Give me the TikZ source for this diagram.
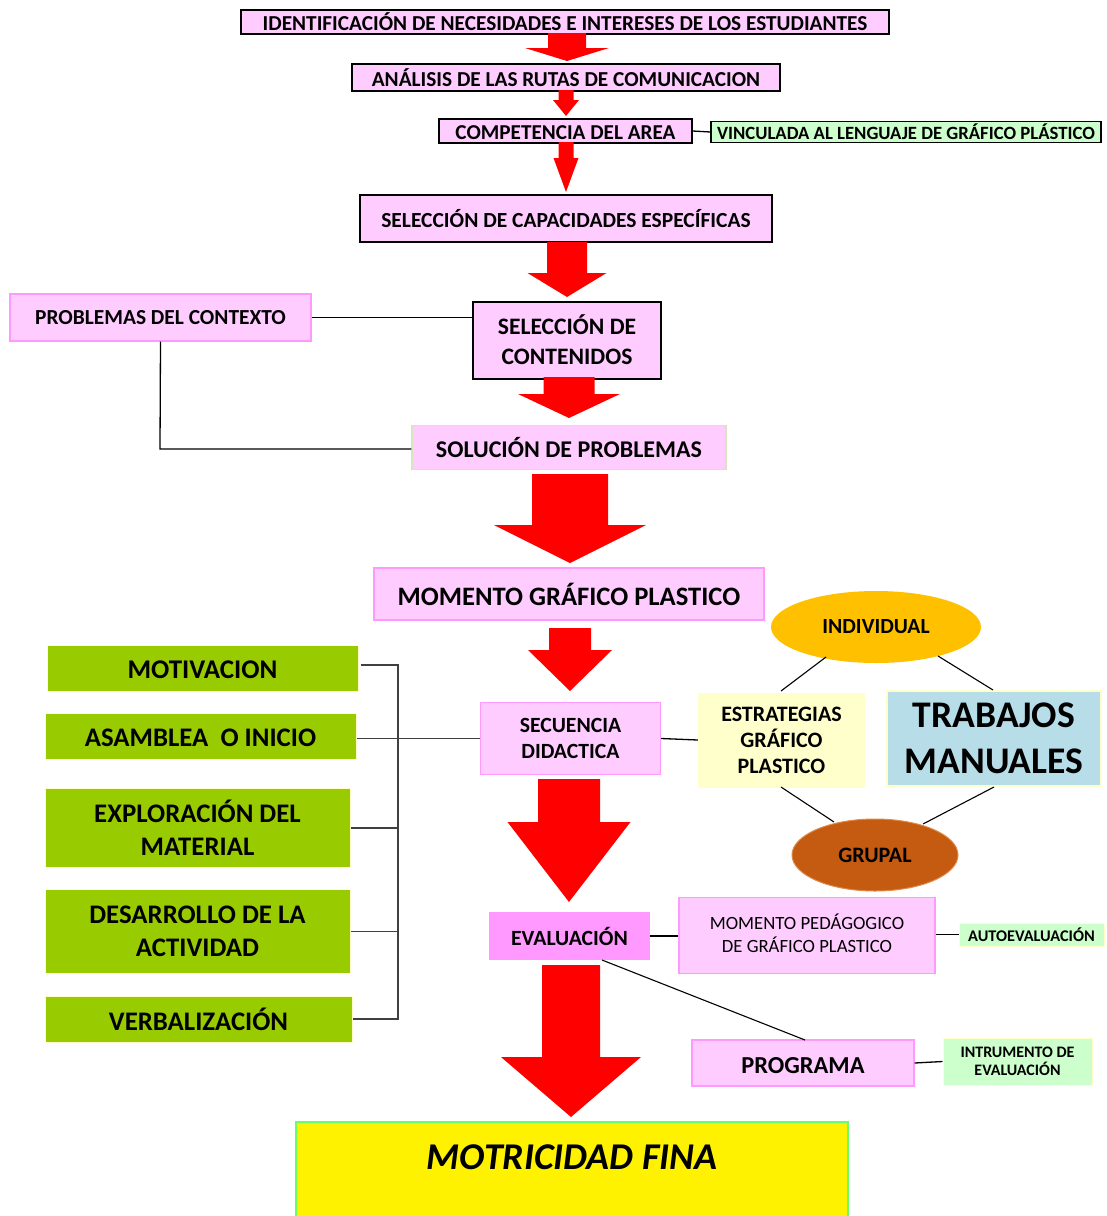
\documentclass[tikz,border=0pt]{standalone}
\usepackage{fontspec}
\setmainfont{Carlito}
\usetikzlibrary{shapes.geometric}
\definecolor{pinkfill}{HTML}{FFCCFF}
\definecolor{pinkline}{HTML}{FF99FF}
\definecolor{evalfill}{HTML}{FF99FF}
\definecolor{leafgreen}{HTML}{99CC00}
\definecolor{paleyellow}{HTML}{FFFFCC}
\definecolor{palegreen}{HTML}{CCFFCC}
\definecolor{paleblue}{HTML}{B7DEE8}
\definecolor{goldfill}{HTML}{FFC000}
\definecolor{brownfill}{HTML}{C55A11}
\definecolor{brownline}{HTML}{E08A4A}
\definecolor{arrowred}{HTML}{FF0000}
\definecolor{softgreen}{HTML}{D8E4BC}
\definecolor{brightgreen}{HTML}{66FF66}
\definecolor{linegrey}{HTML}{404040}
\newcommand\myarrow[6]{\fill[arrowred] ({#1-#3/2},#2) -- ({#1+#3/2},#2) -- ({#1+#3/2},#4) -- ({#1+#5/2},#4) -- (#1,#6) -- ({#1-#5/2},#4) -- ({#1-#3/2},#4) -- cycle;}
\tikzset{
  base/.style={rectangle, inner sep=0pt, align=center},
  txt/.style 2 args={font=\bfseries\fontsize{#1}{#2}\selectfont},
  rtxt/.style 2 args={font=\mdseries\fontsize{#1}{#2}\selectfont},
  capband/.style={text height=#1, text depth=0pt},
  blackbox/.style={base, draw=black, line width=1.6pt, fill=pinkfill},
  softbox/.style={base, draw=pinkline, line width=1.2pt, fill=pinkfill},
  greenbox/.style={base, draw=paleyellow, line width=1pt, fill=leafgreen},
  tagbox/.style={base, draw=paleyellow, line width=1pt, fill=palegreen},
  conn/.style={draw=black, line width=1.3pt},
  brk/.style={draw=linegrey, line width=1.2pt},
}
\begin{document}
\begin{tikzpicture}[x=1pt,y=-1pt]
\useasboundingbox (0,0) rectangle (1107,1216);
% top chain
\node[blackbox, txt={21.3}{24}, minimum width=648, minimum height=24] (ident) at (565,22) {IDENTIFICACIÓN DE NECESIDADES E INTERESES DE LOS ESTUDIANTES};
\node[blackbox, txt={21.3}{24}, minimum width=428, minimum height=27] (anal) at (566,77.5) {ANÁLISIS DE LAS RUTAS DE COMUNICACION};
\node[blackbox, txt={21.2}{24}, capband=17pt, minimum width=253, minimum height=24] (comp) at (565.5,131) {COMPETENCIA DEL AREA};
\node[base, txt={18.7}{22}, draw=black, line width=1.2pt, fill=palegreen, minimum width=390, minimum height=21] (vinc) at (906,132) {VINCULADA AL LENGUAJE DE GRÁFICO PLÁSTICO};
\node[blackbox, txt={21.5}{24}, line width=2pt, minimum width=412, minimum height=47] (capac) at (566,218.5) {SELECCIÓN DE CAPACIDADES ESPECÍFICAS};
\node[blackbox, txt={23.6}{30}, line width=2pt, minimum width=188, minimum height=77] (conte) at (567,340) {SELECCIÓN DE\\CONTENIDOS};
\node[softbox, txt={21.4}{24}, minimum width=301, minimum height=47] (probl) at (160.5,317.5) {PROBLEMAS DEL CONTEXTO};
\node[base, txt={24}{28}, draw=softgreen, line width=1.5pt, fill=pinkfill, minimum width=314, minimum height=44] (soluc) at (569,447.5) {SOLUCIÓN DE PROBLEMAS};
\node[softbox, txt={26.6}{30}, minimum width=390, minimum height=52] (momen) at (569,594) {MOMENTO GRÁFICO PLASTICO};
% arrows
\myarrow{567}{33}{38}{48}{84}{61}
\myarrow{566}{90}{15}{100}{26}{116}
\myarrow{566}{142}{15}{158}{25}{192}
\myarrow{567}{242}{40}{273}{79}{297}
\myarrow{569}{377}{51}{394}{102}{418}
\myarrow{570}{474}{76}{525}{152}{563}
\myarrow{570}{628}{42}{650}{84}{691}
\myarrow{569}{779}{62}{822}{123}{902}
\myarrow{571}{965}{58}{1057}{140}{1117}
% connectors top
\draw[conn] (comp.east) -- (vinc.west);
\draw[conn] (probl.east) -- (probl.east -| conte.west);
\coordinate (pbend) at (160,449);
\draw[conn] (probl.south) -- (pbend) -- (soluc.west |- pbend);
% left green column
\node[greenbox, txt={27}{30}, capband=21pt, minimum width=311, minimum height=46] (motiv) at (202.5,668) {MOTIVACION};
\node[greenbox, txt={26.8}{30}, capband=21pt, minimum width=311, minimum height=46] (asamb) at (200.5,736) {ASAMBLEA\ \ O INICIO};
\node[greenbox, txt={26.8}{33}, minimum width=305, minimum height=79] (explo) at (197.5,828) {EXPLORACIÓN DEL\\MATERIAL};
\node[greenbox, txt={26.8}{33}, minimum width=305, minimum height=84] (desar) at (197.5,931.5) {DESARROLLO DE LA\\ACTIVIDAD};
\node[greenbox, txt={26.8}{30}, minimum width=307, minimum height=46] (verba) at (198.5,1019.5) {VERBALIZACIÓN};
% center
\node[softbox, txt={21.7}{26}, minimum width=180, minimum height=72] (secue) at (570.5,738.5) {SECUENCIA\\DIDACTICA};
\node[base, txt={21.7}{26}, fill=evalfill, minimum width=161, minimum height=48] (evalu) at (569.5,936) {EVALUACIÓN};
\node[base, draw=brightgreen, line width=1.2pt, fill=yellow, minimum width=552, minimum height=100] (motri) at (572,1172) {};
\node[base, font=\bfseries\itshape\fontsize{37.8}{40}\selectfont] (motritxt) at (572,1157) {MOTRICIDAD FINA};
% bracket
\coordinate (btop) at (398,665);
\coordinate (bbot) at (398,1019);
\draw[brk] ([xshift=2pt]motiv.east |- btop) -- (btop) -- (bbot) -- (verba.east |- bbot);
\draw[brk] (asamb.east |- secue.west) -- (secue.west);
\draw[brk] (explo.east) -- (explo.east -| btop);
\draw[brk] (desar.east) -- (desar.east -| btop);
% right cluster
\node[ellipse, txt={21.6}{24}, fill=goldfill, inner sep=0pt, minimum width=210, minimum height=72] (indiv) at (876,627) {INDIVIDUAL};
\node[base, txt={22}{26}, fill=paleyellow, minimum width=167, minimum height=95] (estra) at (781.5,740) {ESTRATEGIAS\\GRÁFICO\\PLASTICO};
\node[base, txt={37.6}{46}, draw=paleyellow, line width=1.2pt, fill=paleblue, minimum width=214, minimum height=95] (traba) at (994,738.5) {TRABAJOS\\MANUALES};
\node[ellipse, txt={22}{24}, draw=brownline, line width=1pt, fill=brownfill, inner sep=0pt, minimum width=166, minimum height=72] (grupa) at (875,855) {GRUPAL};
\draw[conn] (secue.east) -- (estra.west);
\draw[conn, line width=1.1pt] (781,691) -- (826,657);
\draw[conn, line width=1.1pt] (938,656) -- (993,690);
\draw[conn, line width=1.1pt] (781,787) -- (834,822);
\draw[conn, line width=1.1pt] (994,787) -- (923,824);
% evaluation cluster
\node[softbox, minimum width=256, minimum height=76, anchor=north] (pedag) at (807,897) {};
\node[base, rtxt={18.7}{23}] (pedagtxt) at (807,933) {MOMENTO PEDÁGOGICO\\DE GRÁFICO PLASTICO};
\node[tagbox, txt={16.3}{20}, minimum width=145, minimum height=23] (autoe) at (1031.5,934.5) {AUTOEVALUACIÓN};
\node[softbox, txt={24.4}{28}, capband=21pt, minimum width=222, minimum height=46] (progr) at (803,1063) {PROGRAMA};
\node[tagbox, txt={16}{18}, minimum width=149, minimum height=47] (instr) at (1017.5,1061.5) {INTRUMENTO DE\\EVALUACIÓN};
\draw[conn] (evalu.east) -- (evalu.east -| pedag.west);
\draw[conn] (autoe.west -| pedag.east) -- (autoe.west);
\draw[conn, line width=1.1pt] (602,960) -- (805,1040);
\draw[conn] (progr.east) -- (instr.west);
\end{tikzpicture}
\end{document}
